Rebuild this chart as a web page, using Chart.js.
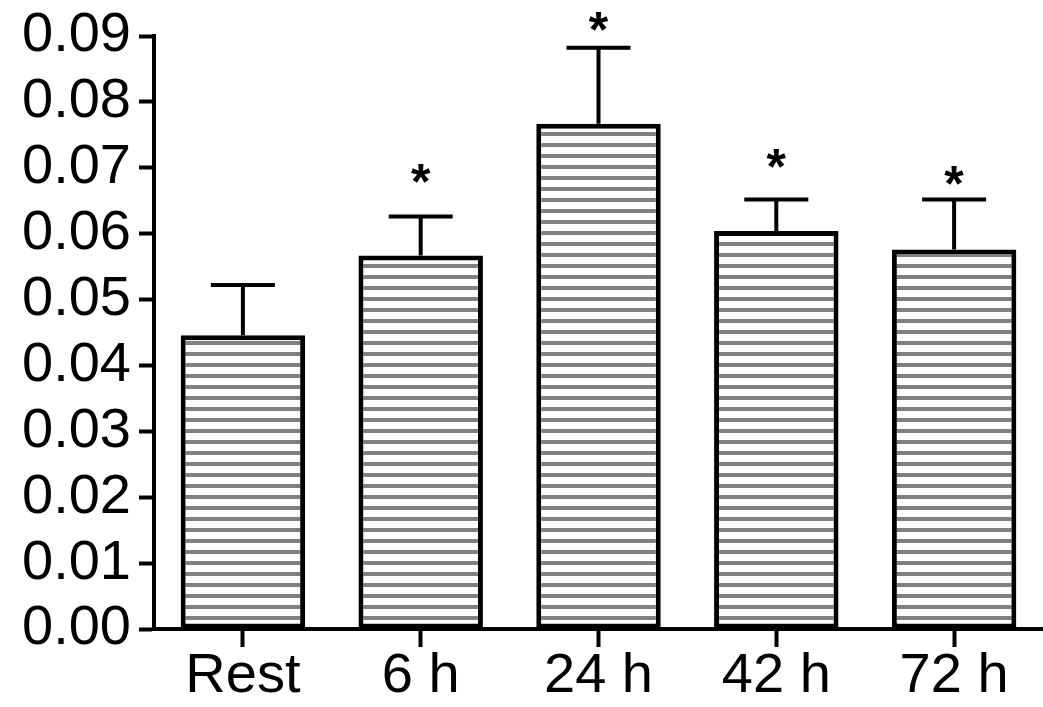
<!DOCTYPE html>
<html>
<head>
<meta charset="utf-8">
<script src="https://cdn.jsdelivr.net/npm/chart.js@4.4.1/dist/chart.umd.min.js"></script>
<style>
  html, body { margin: 0; padding: 0; background: #fff; }
  #wrap { width: 1043px; height: 707px; }
</style>
</head>
<body>
<div id="wrap"><canvas id="bars"></canvas></div>
<script>
var labels    = ['Rest', '6 h', '24 h', '42 h', '72 h']
var means     = [0.0446, 0.0567, 0.0767, 0.0604, 0.0576]
var errUp     = [0.0076, 0.0059, 0.0115, 0.0048, 0.0076]
var starAt    = [null, 0.0687, 0.0918, 0.0710, 0.0684]
var yTicks    = [0, 0.01, 0.02, 0.03, 0.04, 0.05, 0.06, 0.07, 0.08, 0.09]

// horizontal stripe fill
function stripes() {
  var c = document.createElement('canvas')
  c.width = 8; c.height = 11
  var g = c.getContext('2d')
  g.fillStyle = '#ffffff'
  g.fillRect(0, 0, 8, 11)
  g.fillStyle = '#808080'
  g.fillRect(0, 0, 8, 4)
  return g.createPattern(c, 'repeat')
}

var errorBars = {
  id: 'errorBars',
  afterDatasetsDraw: function(chart) {
    var ctx = chart.ctx
    var y = chart.scales.y
    var meta = chart.getDatasetMeta(0)
    ctx.save()
    ctx.strokeStyle = '#000'
    ctx.lineWidth = 4
    meta.data.forEach(function(bar, i) {
      var top = y.getPixelForValue(means[i] + errUp[i])
      var base = y.getPixelForValue(means[i])
      ctx.beginPath()
      ctx.moveTo(bar.x, base)
      ctx.lineTo(bar.x, top)
      ctx.moveTo(bar.x - 32, top)
      ctx.lineTo(bar.x + 32, top)
      ctx.stroke()
      if (starAt[i] != null) {
        ctx.fillStyle = '#000'
        ctx.font = 'bold 50px "Liberation Sans", Arial, sans-serif'
        ctx.textAlign = 'center'
        ctx.textBaseline = 'middle'
        ctx.fillText('*', bar.x, y.getPixelForValue(starAt[i]) + 9)
      }
    })
    ctx.restore()
  }
}

var font = { family: '"Liberation Sans", Arial, sans-serif', size: 56, lineHeight: 1.0 }

new Chart(document.getElementById('bars'), {
  type: 'bar',
  data: {
    labels: labels,
    datasets: [{
      data: means,
      backgroundColor: stripes(),
      borderColor: '#000',
      borderWidth: 5,
      borderSkipped: false,
      barPercentage: 0.7,
      categoryPercentage: 1
    }]
  },
  options: {
    responsive: true,
    maintainAspectRatio: false,
    animation: false,
    layout: { padding: { top: 0, left: 14, right: 0, bottom: 0 } },
    plugins: { legend: { display: false }, tooltip: { enabled: false } },
    scales: {
      x: {
        grid: { display: true, drawOnChartArea: false, offset: false, tickLength: 18, tickWidth: 4, tickColor: '#000' },
        border: { display: true, color: '#000', width: 4 },
        ticks: { color: '#000', font: font, padding: 2, maxRotation: 0 }
      },
      y: {
        min: 0,
        max: 0.09,
        afterBuildTicks: function(axis) { axis.ticks = yTicks.map(function(v) { return { value: v } }) },
        grid: { display: true, drawOnChartArea: false, tickLength: 15, tickWidth: 4, tickColor: '#000' },
        border: { display: true, color: '#000', width: 4 },
        ticks: {
          color: '#000', font: font, padding: 8,
          callback: function(v) { return Number(v).toFixed(2) }
        }
      }
    }
  },
  plugins: [errorBars]
})
</script>
</body>
</html>
